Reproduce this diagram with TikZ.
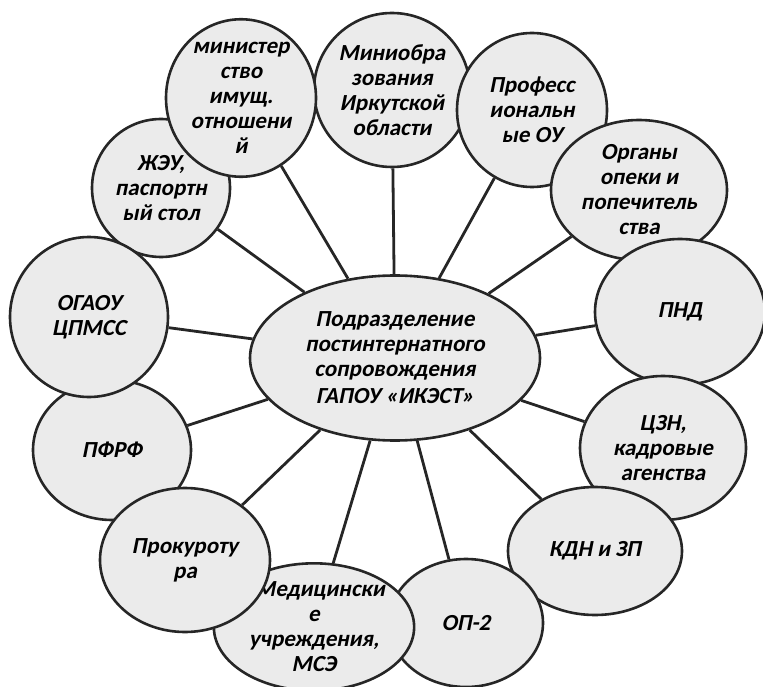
\documentclass[tikz,border=0pt]{standalone}
\usepackage{fontspec}
\setmainfont{Carlito}
\newfontfamily\krugfont{Carlito}[FakeSlant=0.2]
\usetikzlibrary{shapes.geometric}
\begin{document}
\begin{tikzpicture}[x=1pt,y=-1pt]
\tikzset{krug/.style={draw=black!85, line width=2.6pt, fill=black!8, ellipse, inner sep=0pt, align=center, font=\fontsize{23}{25}\krugfont\bfseries}}
\useasboundingbox (0,0) rectangle (763,687);
\node[krug, minimum width=156, minimum height=154] (K2) at (392,90) {Миниобра\\зования\\Иркутской\\области};
\node[krug, minimum width=150, minimum height=154] (K3) at (532,110) {Професс\\иональн\\ые ОУ};
\node[krug, minimum width=176, minimum height=140] (K4) at (639,190) {Органы\\опеки и\\попечитель\\ства};
\node[krug, minimum width=170, minimum height=146] (K5) at (680,312) {ПНД};
\node[krug, minimum width=166, minimum height=144] (K6) at (663,448) {ЦЗН,\\кадровые\\агенства};
\node[krug, minimum width=174, minimum height=128] (K7) at (595,551) {КДН и ЗП};
\node[krug, minimum width=154, minimum height=128] (K8) at (466,623) {ОП-2};
\node[krug, minimum width=176, minimum height=126] (K9) at (314,627) {\hspace*{12pt}Медицински\\е\\учреждения,\\МСЭ};
\node[krug, minimum width=158, minimum height=140] (K11) at (112,450) {ПФРФ};
\node[krug, minimum width=170, minimum height=144] (K10) at (185,560) {Прокуроту\\ра};
\node[krug, minimum width=138, minimum height=138] (K13) at (161,188) {ЖЭУ,\\паспортн\\ый стол};
\node[krug, minimum width=158, minimum height=160] (K12) at (89,317) {ОГАОУ\\ЦПМСС};
\node[krug, minimum width=150, minimum height=144] (K1) at (241,98) {министер\\ство\\имущ.\\отношени\\й};
\node[krug, minimum width=290, minimum height=165] (C0) at (395,358) {Подразделение\\постинтернатного\\сопровождения\\[2pt]ГАПОУ «ИКЭСТ»};
\draw[line width=2.8pt, black!85] (C0) -- (K1);
\draw[line width=2.8pt, black!85] (C0) -- (K2);
\draw[line width=2.8pt, black!85] (C0) -- (K3);
\draw[line width=2.8pt, black!85] (C0) -- (K4);
\draw[line width=2.8pt, black!85] (C0) -- (K5);
\draw[line width=2.8pt, black!85] (C0) -- (K6);
\draw[line width=2.8pt, black!85] (C0) -- (K7);
\draw[line width=2.8pt, black!85] (C0) -- (K8);
\draw[line width=2.8pt, black!85] (C0) -- (K9);
\draw[line width=2.8pt, black!85] (C0) -- (K10);
\draw[line width=2.8pt, black!85] (C0) -- (K11);
\draw[line width=2.8pt, black!85] (C0) -- (K12);
\draw[line width=2.8pt, black!85] (C0) -- (K13);
\end{tikzpicture}
\end{document}
